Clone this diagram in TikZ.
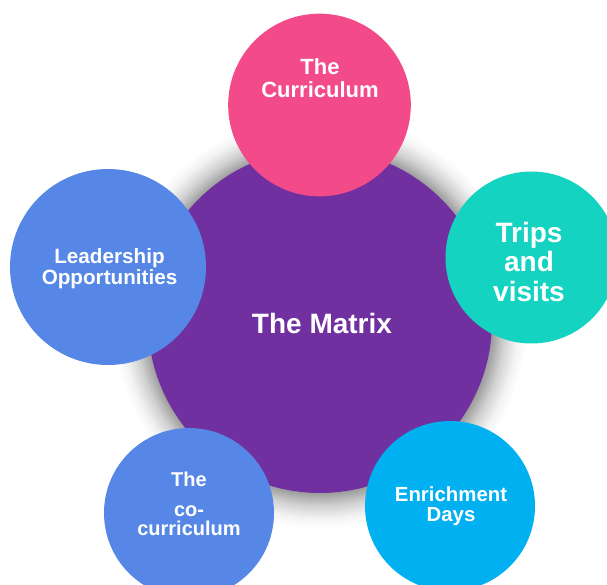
\documentclass[tikz,border=0pt]{standalone}
\usepackage{fontspec}
\setmainfont{Liberation Sans}
\usepackage{tikz}

\definecolor{matrixpurple}{RGB}{112,48,160}
\definecolor{currpink}{RGB}{243,74,138}
\definecolor{tripteal}{RGB}{20,211,192}
\definecolor{leadblue}{RGB}{86,135,230}
\definecolor{enrichsky}{RGB}{0,176,240}

% soft grey halo behind the central circle (radius 172 of 207)
\pgfdeclareradialshading{matrixglow}{\pgfpoint{0bp}{0bp}}{%
  color(0bp)=(black!38); color(20.8bp)=(black!38); color(22.3bp)=(black!18);
  color(23.8bp)=(black!5); color(25bp)=(white); color(50bp)=(white)}

\begin{document}
\begin{tikzpicture}[x=0.75pt, y=-0.75pt,
    bubble/.style={circle, inner sep=0pt, fill=#1},
    caption/.style={text=white, align=center, anchor=base, inner sep=0pt}]
    % Page frame (pixel units, y downwards)
    \clip (0,0) rectangle (607,585);
    \fill[white] (0,0) rectangle (607,585);

    % Centre of the diagram and its shadow
    \coordinate (O) at (320,321);
    \shade[shading=matrixglow] (O) circle[radius=207];

    % Central circle
    \node[bubble=matrixpurple, minimum size=258pt] (matrix) at (O) {};
    \node[caption, font=\fontsize{21}{22}\selectfont\bfseries] (matrix-t) at (322,333) {The Matrix};

    % Outer circles, clockwise from the top
    \node[bubble=currpink, minimum size=137pt] (curr) at (319.5,105) {};
    \node[bubble=tripteal, minimum size=129pt] (trips) at (531.5,257.5) {};
    \node[bubble=enrichsky, minimum size=127.5pt] (enrich) at (450,506) {};
    \node[bubble=leadblue, minimum size=127.5pt] (cocurr) at (189,513) {};
    \node[bubble=leadblue, minimum size=147pt] (lead) at (108,267) {};

    % Their labels (anchored on the last baseline)
    \node[caption, font=\fontsize{16.5}{17.25}\selectfont\bfseries] (curr-t) at (320,98) {The\\Curriculum};
    \node[caption, font=\fontsize{21}{22}\selectfont\bfseries] (trips-t) at (529,301) {Trips\\and\\visits};
    \node[caption, font=\fontsize{15.3}{15}\selectfont\bfseries] (enrich-t) at (451,521) {Enrichment\\Days};
    \node[caption, font=\fontsize{15}{14.25}\selectfont\bfseries] (cocurr-t) at (189,535) {The\\[8.25pt]co-\\curriculum};
    \node[caption, font=\fontsize{15.5}{15.75}\selectfont\bfseries] (lead-t) at (109.5,284) {Leadership\\Opportunities};
\end{tikzpicture}
\end{document}
